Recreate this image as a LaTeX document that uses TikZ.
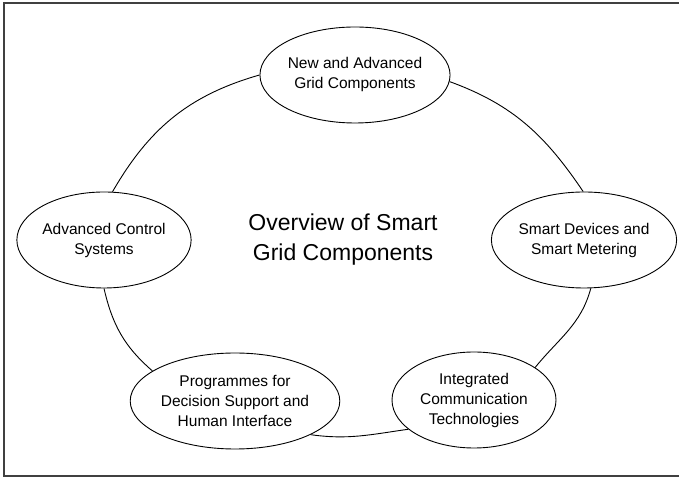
\documentclass[tikz,border=0pt]{standalone}
\usepackage{fontspec}
\setmainfont{Liberation Sans}
\usetikzlibrary{shapes.geometric}

\begin{document}
\begin{tikzpicture}[x=1pt,y=1pt,
  part/.style={ellipse, draw, line width=0.9pt, fill=white,
    minimum width=164pt, minimum height=96pt, inner sep=0pt,
    align=center, font=\fontsize{15.5}{20}\selectfont},
  link/.style={line width=0.9pt},
  frame/.style={draw=black!75, line width=1.5pt}]
\useasboundingbox (0,0) rectangle (679,478);
% outer frame (its right side runs past the page edge)
\draw[frame] (4,2) rectangle (690,475);

% the five component ellipses
\node[part] (top)   at (355,403) {New and Advanced\\Grid Components};
\node[part] (right) at (584,238) {Smart Devices and\\Smart Metering};
\node[part] (br)    at (474,78)  {Integrated\\Communication\\Technologies};
\node[part] (bl)    at (235,77)  {Programmes for\\Decision Support and\\Human Interface};
\node[part] (left)  at (104,238) {Advanced Control\\Systems};

% central title
\node[align=center, font=\fontsize{23}{30}\selectfont] (title) at (343,238)
  {Overview of Smart\\Grid Components};

% ring of arcs joining the components
\draw[link] (top.180)  to[out=196,in=60]  (left.80);
\draw[link] (top.-4)   to[out=-20,in=124] (right.91);
\draw[link] (right.-82) to[out=255,in=51] (br.28);
\draw[link] (br.204)   to[out=188,in=-8]  (bl.-24);
\draw[link] (bl.160)   to[out=139,in=283] (left.-90);
\end{tikzpicture}
\end{document}
